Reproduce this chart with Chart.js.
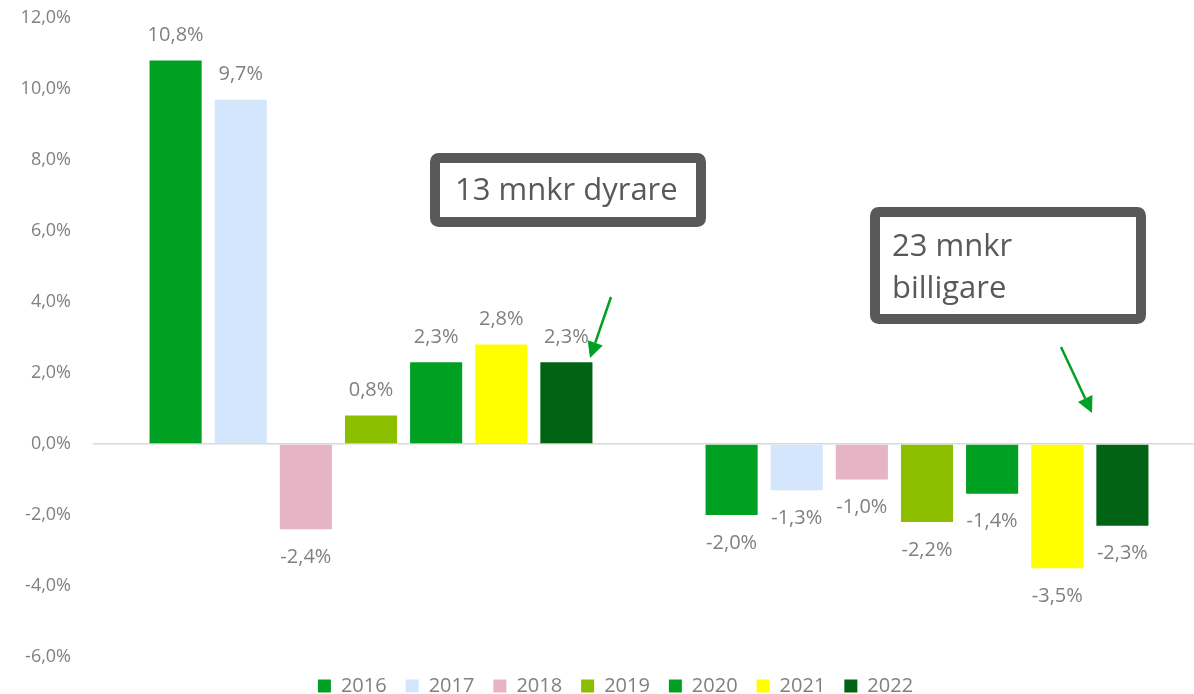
<!DOCTYPE html>
<html>
<head>
<meta charset="utf-8">
<script src="https://cdn.jsdelivr.net/npm/chart.js@4"></script>
<style>
  html, body { margin: 0; padding: 0; background: #fff; overflow: hidden; }
  #wrap { position: relative; width: 1205px; height: 694px; }
</style>
</head>
<body>
<div id="wrap"><canvas id="chart"></canvas></div>
<script>
  // Varugrupper (utan etikett i originalet) och serier per år
  var categories = ['Dyrare', 'Billigare'];
  var years = ['2016', '2017', '2018', '2019', '2020', '2021', '2022'];
  var values2016 = [10.8, -2.0];
  var values2017 = [9.7, -1.3];
  var values2018 = [-2.4, -1.0];
  var values2019 = [0.8, -2.2];
  var values2020 = [2.3, -1.4];
  var values2021 = [2.8, -3.5];
  var values2022 = [2.3, -2.3];
  var yTicks = [-6, -4, -2, 0, 2, 4, 6, 8, 10, 12];
  var notes = ['13 mnkr dyrare', '23 mnkr|billigare'];

  var colors = ['#00A023', '#D3E6FB', '#E6B4C4', '#8CBE00', '#00A023', '#FFFF00', '#006414'];
  var series = [values2016, values2017, values2018, values2019, values2020, values2021, values2022];
  var FONT = '"Open Sans", "Noto Sans", sans-serif';
  var GREY = '#808080';

  function fmt(v) {
    return v.toFixed(1).replace('.', ',') + '%';
  }

  // etiketter ovanför/under staplarna
  var valueLabels = {
    id: 'valueLabels',
    afterDatasetsDraw: function (chart) {
      var ctx = chart.ctx;
      ctx.save();
      ctx.font = '20px ' + FONT;
      ctx.fillStyle = GREY;
      ctx.textAlign = 'center';
      ctx.textBaseline = 'middle';
      chart.data.datasets.forEach(function (ds, i) {
        chart.getDatasetMeta(i).data.forEach(function (bar, j) {
          var v = ds.data[j];
          if (v >= 0) {
            ctx.fillText(fmt(v), bar.x, bar.y - 25);
          } else {
            ctx.fillText(fmt(v), bar.x, bar.y + 28);
          }
        });
      });
      ctx.restore();
    }
  };

  // legendens höjd låses så att plotytan räcker ned till -6 %,
  // och den flyttas lite åt höger som i originalet
  var legendTweak = {
    id: 'legendTweak',
    beforeLayout: function (chart) {
      var lg = chart.legend;
      if (lg && !lg._fixedFit) {
        var fit = lg.fit;
        lg.fit = function () {
          fit.call(this);
          this.height = 37;
        };
        lg._fixedFit = true;
      }
    },
    afterLayout: function (chart) {
      var lg = chart.legend;
      if (lg) {
        lg.left += 13;
        lg.right += 13;
      }
    }
  };

  function roundRect(ctx, x, y, w, h, r) {
    ctx.beginPath();
    ctx.moveTo(x + r, y);
    ctx.lineTo(x + w - r, y);
    ctx.quadraticCurveTo(x + w, y, x + w, y + r);
    ctx.lineTo(x + w, y + h - r);
    ctx.quadraticCurveTo(x + w, y + h, x + w - r, y + h);
    ctx.lineTo(x + r, y + h);
    ctx.quadraticCurveTo(x, y + h, x, y + h - r);
    ctx.lineTo(x, y + r);
    ctx.quadraticCurveTo(x, y, x + r, y);
    ctx.closePath();
  }

  function arrow(ctx, x1, y1, x2, y2) {
    var a = Math.atan2(y2 - y1, x2 - x1);
    var hl = 16, hw = 8;
    var bx = x2 - hl * Math.cos(a), by = y2 - hl * Math.sin(a);
    ctx.strokeStyle = '#00A023';
    ctx.fillStyle = '#00A023';
    ctx.lineWidth = 2.5;
    ctx.beginPath();
    ctx.moveTo(x1, y1);
    ctx.lineTo(bx, by);
    ctx.stroke();
    ctx.beginPath();
    ctx.moveTo(x2, y2);
    ctx.lineTo(bx + hw * Math.sin(a), by - hw * Math.cos(a));
    ctx.lineTo(bx - hw * Math.sin(a), by + hw * Math.cos(a));
    ctx.closePath();
    ctx.fill();
  }

  // textrutor och pilar
  var callouts = {
    id: 'callouts',
    afterDraw: function (chart) {
      var ctx = chart.ctx;
      ctx.save();
      ctx.lineWidth = 10;
      ctx.strokeStyle = '#595959';
      ctx.fillStyle = '#fff';
      roundRect(ctx, 435, 158, 266, 64, 4);
      ctx.fill(); ctx.stroke();
      roundRect(ctx, 875, 212, 266, 107, 4);
      ctx.fill(); ctx.stroke();
      ctx.fillStyle = '#595959';
      ctx.font = '31px ' + FONT;
      ctx.textAlign = 'left';
      ctx.textBaseline = 'middle';
      ctx.fillText(notes[0], 455, 191);
      var lines = notes[1].split('|');
      ctx.fillText(lines[0], 892, 247);
      ctx.fillText(lines[1], 892, 289);
      arrow(ctx, 611, 297, 590, 358);
      arrow(ctx, 1061, 347, 1092, 413);
      ctx.restore();
    }
  };

  var datasets = years.map(function (y, i) {
    return {
      label: y,
      data: series[i],
      backgroundColor: colors[i],
      categoryPercentage: 0.82,
      barPercentage: 0.8
    };
  });

  new Chart(document.getElementById('chart'), {
    type: 'bar',
    data: { labels: categories, datasets: datasets },
    options: {
      responsive: true,
      maintainAspectRatio: false,
      animation: false,
      layout: { padding: { top: 18, right: 0, left: 0, bottom: 0 } },
      scales: {
        x: { display: false },
        y: {
          min: -6,
          max: 12,
          afterBuildTicks: function (axis) {
            axis.ticks = yTicks.map(function (v) { return { value: v }; });
          },
          afterFit: function (axis) { axis.width = 93; },
          border: { display: false },
          grid: {
            drawTicks: true,
            tickLength: 21,
            tickColor: 'rgba(0,0,0,0)',
            lineWidth: 1.5,
            color: function (c) { return c.tick && c.tick.value === 0 ? '#D9D9D9' : 'rgba(0,0,0,0)'; }
          },
          ticks: {
            padding: 1,
            color: GREY,
            font: { family: FONT, size: 18 },
            callback: function (v) { return fmt(v); }
          }
        }
      },
      plugins: {
        legend: {
          position: 'bottom',
          labels: {
            boxWidth: 13,
            boxHeight: 13,
            color: GREY,
            padding: 19,
            font: { family: FONT, size: 20 }
          }
        },
        tooltip: { enabled: false }
      }
    },
    plugins: [legendTweak, valueLabels, callouts]
  });
</script>
</body>
</html>
